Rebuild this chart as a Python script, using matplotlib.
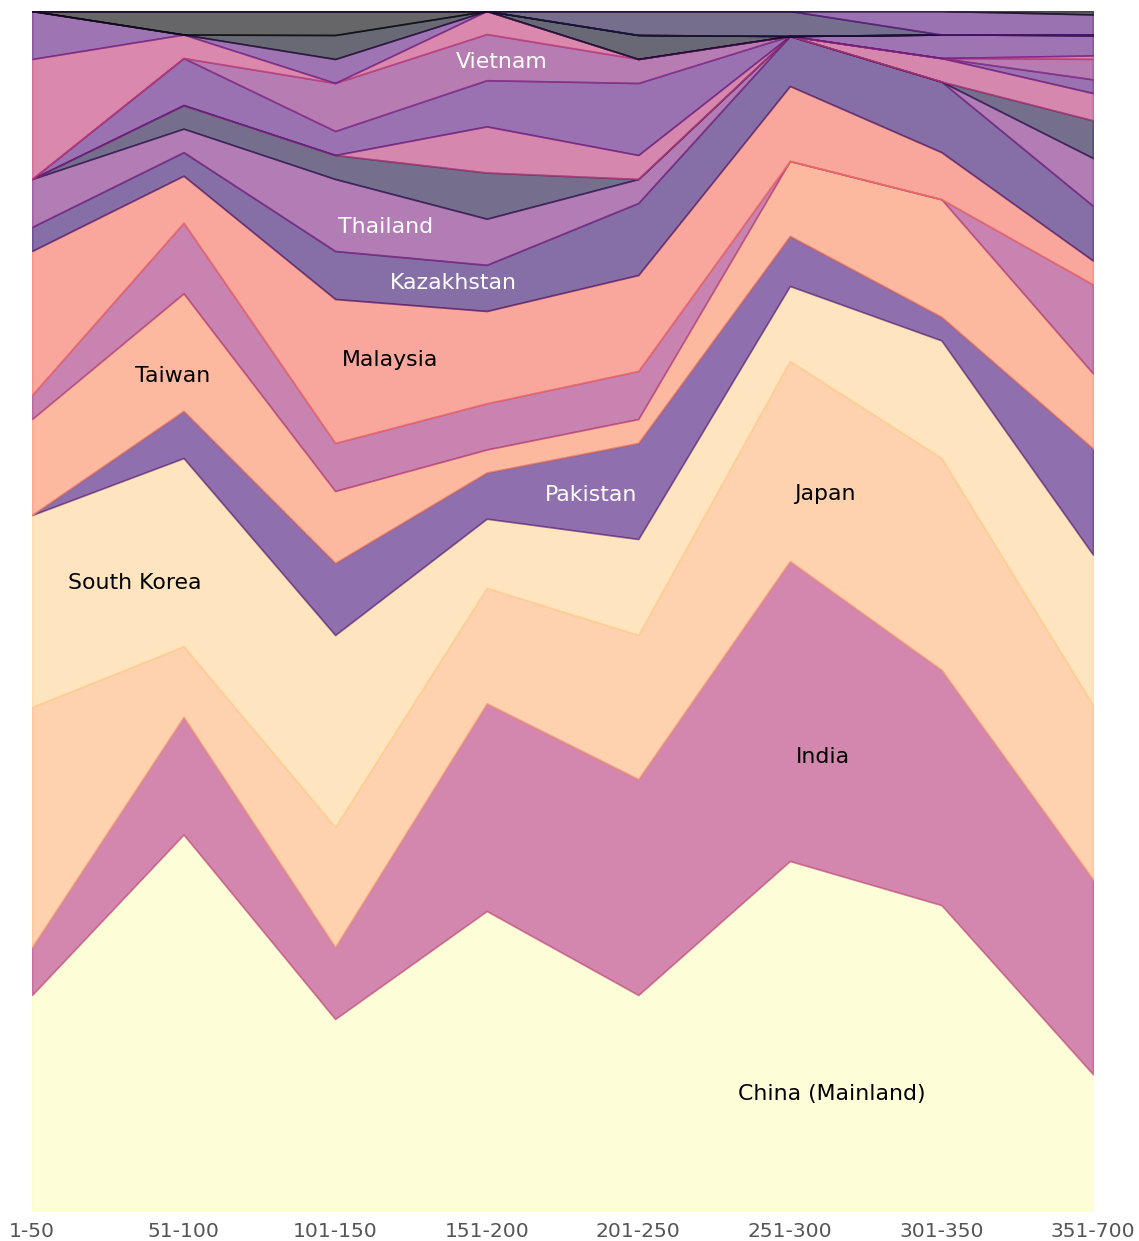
import numpy as np
import matplotlib
matplotlib.use("Agg")
import matplotlib.pyplot as plt

# ranking bands on the x axis
bands = ["1-50", "51-100", "101-150", "151-200", "201-250", "251-300", "301-350", "351-700"]

# number of universities per band, stacked bottom -> top
countries = ["China (Mainland)", "India", "Japan", "South Korea", "Pakistan", "Taiwan",
             "Indonesia", "Malaysia", "Kazakhstan", "Thailand", "Philippines", "Bangladesh",
             "Uzbekistan", "Vietnam", "Hong Kong SAR", "Singapore", "Macau SAR", "Brunei",
             "Sri Lanka", "Mongolia", "Nepal"]
china = [9, 16, 8, 13, 9, 14, 13, 40]
india = [2, 5, 3, 9, 9, 12, 10, 57]
japan = [10, 3, 5, 5, 6, 8, 9, 51]
south_korea = [8, 8, 8, 3, 4, 3, 5, 44]
pakistan = [0, 2, 3, 2, 4, 2, 1, 31]
taiwan = [4, 5, 3, 1, 1, 3, 5, 22]
indonesia = [1, 3, 2, 2, 2, 0, 0, 26]
malaysia = [6, 2, 6, 4, 4, 3, 2, 7]
kazakhstan = [1, 1, 2, 2, 3, 2, 3, 16]
thailand = [2, 1, 3, 2, 1, 0, 0, 14]
philippines = [0, 1, 1, 2, 0, 0, 0, 11]
bangladesh = [0, 0, 0, 2, 1, 0, 1, 8]
uzbekistan = [0, 2, 1, 2, 3, 0, 0, 4]
vietnam = [0, 0, 2, 2, 1, 0, 0, 6]
hong_kong = [5, 1, 0, 1, 0, 0, 0, 1]
singapore = [2, 0, 1, 0, 0, 0, 1, 6]
macau = [0, 0, 1, 0, 1, 0, 0, 0]
brunei = [0, 1, 1, 0, 0, 0, 0, 0]
sri_lanka = [0, 0, 0, 0, 1, 1, 0, 0]
mongolia = [0, 0, 0, 0, 0, 0, 1, 6]
nepal = [0, 0, 0, 0, 0, 0, 0, 1]

series = [china, india, japan, south_korea, pakistan, taiwan, indonesia, malaysia,
          kazakhstan, thailand, philippines, bangladesh, uzbekistan, vietnam, hong_kong,
          singapore, macau, brunei, sri_lanka, mongolia, nepal]

# magma shade per layer
shades = [1.0, 0.50, 0.84, 0.91, 0.23, 0.75, 0.46, 0.69, 0.19, 0.37, 0.12, 0.51,
          0.27, 0.39, 0.53, 0.29, 0.05, 0.0, 0.12, 0.27, 0.0]

# where the country names go (band index, percent)
label_pos = {
    "China (Mainland)": (5.28, 9.75),
    "India": (5.22, 37.8),
    "Japan": (5.23, 59.75),
    "South Korea": (0.68, 52.3),
    "Taiwan": (0.93, 69.6),
    "Pakistan": (3.69, 59.7),
    "Malaysia": (2.36, 70.9),
    "Kazakhstan": (2.78, 77.3),
    "Thailand": (2.33, 82.0),
    "Vietnam": (3.10, 95.75),
}
white_labels = ["Pakistan", "Kazakhstan", "Thailand", "Vietnam"]

data = np.array(series, dtype=float)
pct = data / data.sum(axis=0) * 100
tops = np.cumsum(pct, axis=0)
x = np.arange(len(bands))

fig = plt.figure(figsize=(11.39, 12.41), dpi=100)
ax = fig.add_axes([32 / 1139, 1 - 1211 / 1241, 1061 / 1139, 1200 / 1241])

cmap = plt.cm.magma
bottom = np.zeros(len(bands))
for i, name in enumerate(countries):
    c = cmap(shades[i])
    ax.fill_between(x, bottom, tops[i], color=c, alpha=0.6, linewidth=1.2)
    bottom = tops[i]

for name, (lx, ly) in label_pos.items():
    col = "white" if name in white_labels else "black"
    ax.text(lx, ly, name, ha="center", va="center", fontsize=15.8, color=col)

ax.set_xlim(0, len(bands) - 1)
ax.set_ylim(0, 100)
ax.set_xticks(x)
ax.set_xticklabels(bands, fontsize=14.6, color="#555555")
ax.tick_params(axis="x", length=0, pad=8)
ax.set_yticks([])
for s in ax.spines.values():
    s.set_visible(False)

fig.savefig("out.png", dpi=100)
